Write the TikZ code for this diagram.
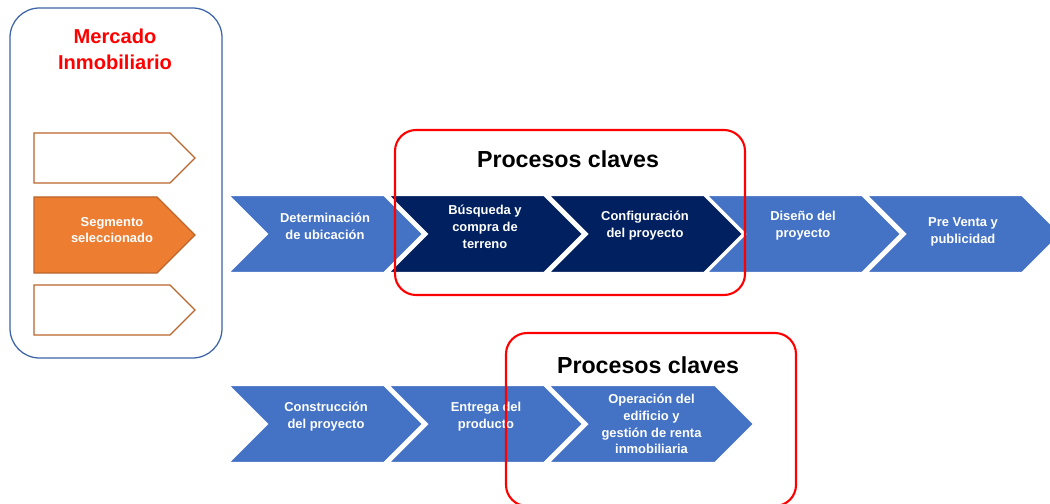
\documentclass[tikz,border=0pt]{standalone}
\usepackage{fontspec}
\setmainfont{Liberation Sans}
\usetikzlibrary{calc}
\definecolor{azulPaso}{HTML}{4472C4}
\definecolor{azulOscuro}{HTML}{002060}
\definecolor{naranjaSeg}{HTML}{ED7D31}
\definecolor{naranjaBorde}{HTML}{B9652B}
\definecolor{azulMarco}{HTML}{3C64A6}
\tikzset{
    paso/.style={
        ,   fill=#1
        ,   draw=white
        ,   line width=1.5pt
    },
    txtPaso/.style={
        ,   text=white
        ,   align=center
        ,   inner sep=0pt
        ,   font={\fontsize{9.2pt}{12pt}\selectfont\bfseries}
    },
    segmento/.style={
        ,   fill=#1
        ,   draw=naranjaBorde
        ,   line width=0.8pt
    },
    marcoClave/.style={
        ,   draw=red
        ,   line width=1.5pt
        ,   rounded corners=15pt
    },
    txtClave/.style={
        ,   inner sep=0pt
        ,   font={\fontsize{16.5pt}{18pt}\selectfont\bfseries}
    }
}

\begin{document}
\begin{tikzpicture}[x=0.025cm, y=-0.025cm]
\useasboundingbox (0,0) rectangle (1050,504);

% mercado inmobiliario
\draw[azulMarco, line width=0.9pt, rounded corners=21pt] (10,8) rectangle (222,358);
\node[text=red, align=center, inner sep=0pt, font={\fontsize{14.3pt}{18.4pt}\selectfont\bfseries}] (mercado) at (115,49) {Mercado\\Inmobiliario};

\draw[segmento=white] (34,133) -- (170,133) -- (195,158) -- (170,183) -- (34,183) -- cycle;
\draw[segmento=naranjaSeg] (34,197) -- (157,197) -- (195,235) -- (157,273) -- (34,273) -- cycle;
\draw[segmento=white] (34,285) -- (170,285) -- (195,310) -- (170,335) -- (34,335) -- cycle;
\node[txtPaso] (seg) at (112,230) {Segmento\\seleccionado};

% fila de arriba
\foreach \i/\L/\c/\ty/\txt in {
    1/228/azulPaso/226/{Determinación\\de ubicación},
    2/388/azulOscuro/227/{Búsqueda y\\compra de\\terreno},
    3/548/azulOscuro/226/{Configuración\\del proyecto},
    4/706/azulPaso/226/{Diseño del\\proyecto},
    5/866/azulPaso/232/{Pre Venta y\\publicidad}}{
  \draw[paso=\c] (\L,195) -- ++(156,0) -- ++(39,39) -- ++(-39,39) -- ++(-156,0) -- ++(39,-39) -- cycle;
  \node[txtPaso] (arriba\i) at (\L+97,\ty) {\txt};
}

% fila de abajo
\foreach \i/\L/\w/\ty/\txt in {
    1/228/156/417/{Construcción\\del proyecto},
    2/388/156/417/{Entrega del\\producto},
    3/548/167/424/{Operación del\\edificio y\\gestión de renta\\inmobiliaria}}{
  \draw[paso=azulPaso] (\L,385) -- ++(\w,0) -- ++(39,39) -- ++(-39,39) -- ++(-\w,0) -- ++(39,-39) -- cycle;
  \node[txtPaso] (abajo\i) at (\L+\w/2+20,\ty) {\txt};
}

% procesos claves
\draw[marcoClave] (395,130) rectangle (745,295);
\node[txtClave] (clave1) at (568,159) {Procesos claves};
\draw[marcoClave] (506,333) rectangle (796,506);
\node[txtClave] (clave2) at (648,365) {Procesos claves};
\end{tikzpicture}
\end{document}
